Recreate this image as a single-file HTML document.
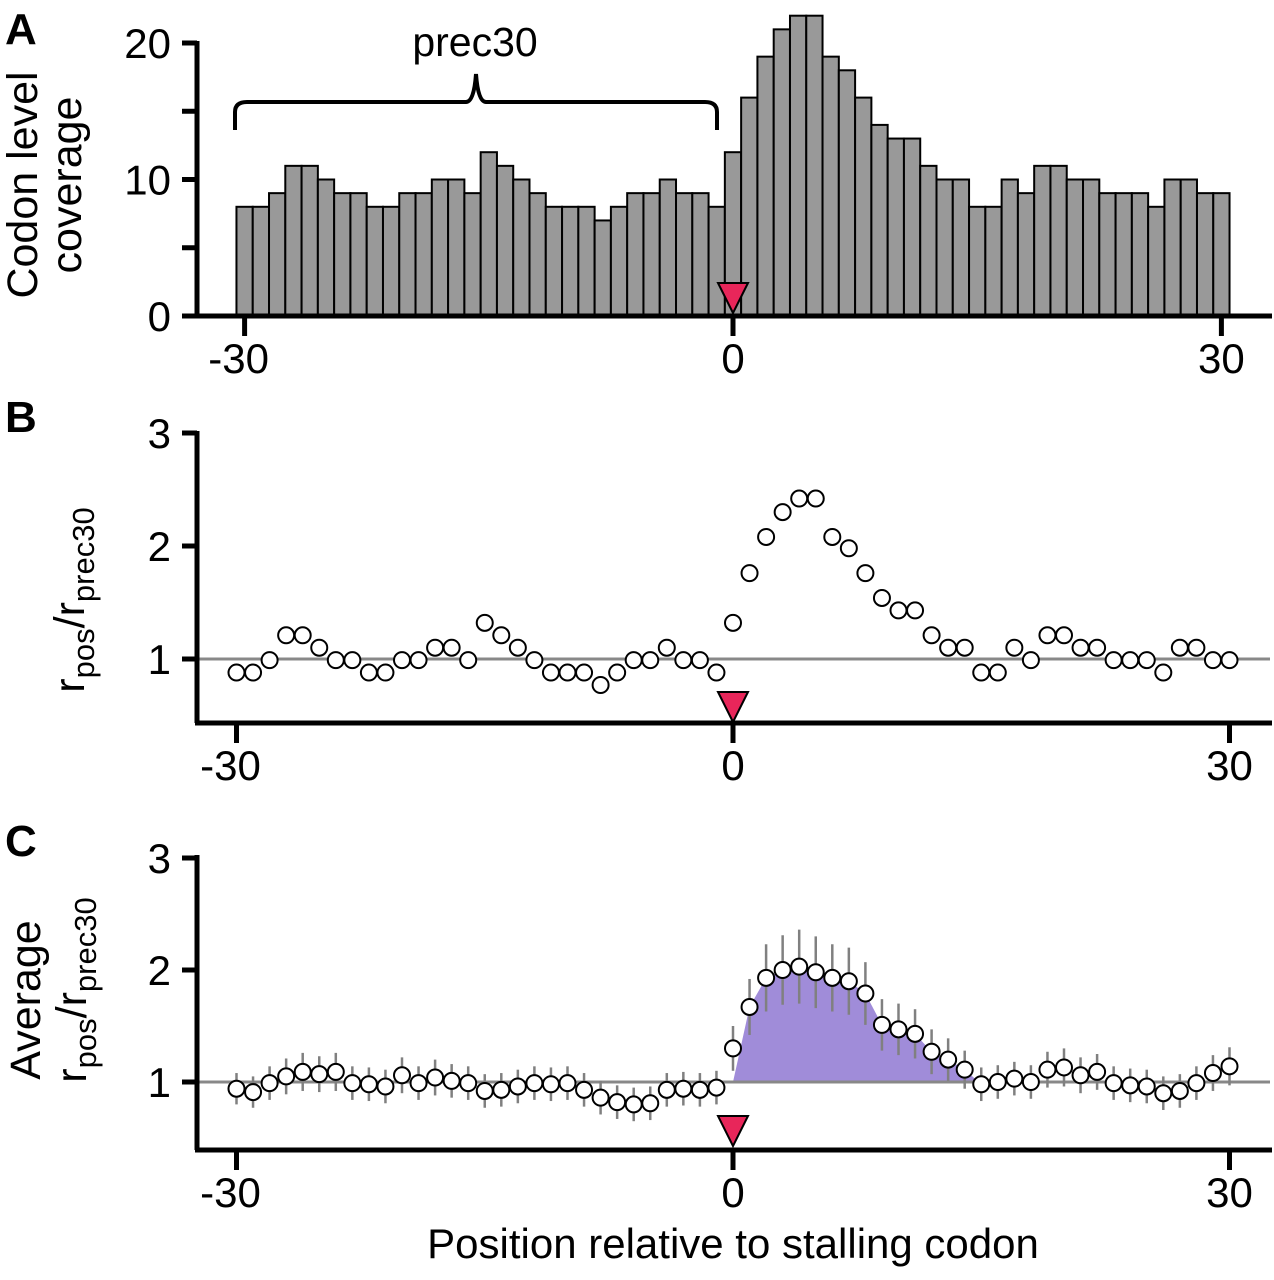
<!DOCTYPE html>
<html><head><meta charset="utf-8"><style>
html,body{margin:0;padding:0;background:#fff}
svg{display:block;font-family:"Liberation Sans",Arial,sans-serif}
</style></head><body>
<svg id="fig" width="1274" height="1280" viewBox="0 0 1274 1280" xmlns="http://www.w3.org/2000/svg">
<g id="gA"></g>
<g id="gB"></g>
<g id="gC"></g>
</svg>
<script>
const positions = [];
for (let i = -30; i <= 30; i++) positions.push(i);
const coverage = [8,8,9,11,11,10,9,9,8,8,9,9,10,10,9,12,11,10,9,8,8,8,7,8,9,9,10,9,9,8,
  12,16,19,21,22,22,19,18,16,14,13,13,11,10,10,8,8,10,9,11,11,10,10,9,9,9,8,10,10,9,9];
const ratioB = [0.88,0.88,0.99,1.21,1.21,1.1,0.99,0.99,0.88,0.88,0.99,0.99,1.1,1.1,0.99,1.32,1.21,1.1,0.99,0.88,0.88,0.88,0.77,0.88,0.99,0.99,1.1,0.99,0.99,0.88,
  1.32,1.76,2.08,2.3,2.42,2.42,2.08,1.98,1.76,1.54,1.43,1.43,1.21,1.1,1.1,0.88,0.88,1.1,0.99,1.21,1.21,1.1,1.1,0.99,0.99,0.99,0.88,1.1,1.1,0.99,0.99];
const avgC = [0.94,0.91,0.99,1.05,1.09,1.07,1.09,0.99,0.98,0.96,1.06,0.99,1.04,1.01,0.99,0.92,0.93,0.96,0.99,0.98,0.99,0.93,0.86,0.82,0.80,0.81,0.93,0.94,0.93,0.95,
  1.30,1.67,1.93,2.0,2.03,1.98,1.93,1.90,1.79,1.51,1.47,1.43,1.27,1.20,1.11,0.98,1.0,1.03,1.0,1.11,1.13,1.06,1.09,0.99,0.97,0.96,0.90,0.92,0.99,1.08,1.14];
const errC = [0.14,0.14,0.15,0.16,0.17,0.16,0.17,0.15,0.15,0.15,0.16,0.15,0.16,0.15,0.15,0.15,0.15,0.15,0.15,0.15,0.15,0.15,0.15,0.15,0.15,0.15,0.15,0.15,0.15,0.15,
  0.2,0.25,0.3,0.31,0.33,0.32,0.3,0.3,0.28,0.23,0.23,0.22,0.2,0.19,0.17,0.15,0.15,0.15,0.15,0.16,0.17,0.16,0.16,0.15,0.15,0.15,0.15,0.15,0.15,0.16,0.17];
const xTicks = [-30,0,30];
const yTicksA = [0,5,10,15,20], yLabelsA = ["0","","10","","20"];
const yTicksR = [1,2,3];

const NS = "http://www.w3.org/2000/svg";
function mk(parent, tag, attrs, text) {
  const e = document.createElementNS(NS, tag);
  for (const k in attrs) e.setAttribute(k, attrs[k]);
  if (text !== undefined) e.textContent = text;
  parent.appendChild(e);
  return e;
}
const xA = v => 733 + v * 16.28;
const xS = v => 733 + v * 16.55;
const yA = v => 316 - v * 13.65;
const yB = v => 659 - (v - 1) * 113;
const yC = v => 1082 - (v - 1) * 112;

function axes(g, xScale, yScale, ticks, labels, yTop, yBot) {
  let e = mk(g, "line", {x1:197, y1:yTop, x2:197, y2:yBot, stroke:"#000","stroke-width":5});
  
  
  e = mk(g, "line", {x1:195, y1:yBot, x2:1272, y2:yBot, stroke:"#000","stroke-width":5});
  
  
  ticks.forEach((t, i) => {
    mk(g, "line", {x1:182, y1:yScale(t), x2:197, y2:yScale(t), stroke:"#000","stroke-width":5});
    if (labels[i]) {
      const tl = mk(g, "text", {x:171, y:yScale(t) + 15, "font-size":42, "text-anchor":"end"}, labels[i]);
      
      
    }
  });
  xTicks.forEach(t => {
    mk(g, "line", {x1:xScale(t), y1:yBot, x2:xScale(t), y2:yBot + 20, stroke:"#000","stroke-width":5});
    const tl = mk(g, "text", {x:xScale(t) + (t < 0 ? -6 : 0), y:yBot + 57, "font-size":42, "text-anchor":"middle"}, String(t));
    
    
  });
}
function triangle(g, yTip) {
  const t = mk(g, "polygon", {points:`${733-15},${yTip-30} ${733+15},${yTip-30} 733,${yTip}`, fill:"#e8265a", stroke:"#000","stroke-width":2});
  
  
}
function letter(g, s, y) {
  const t = mk(g, "text", {x:5, y:y, "font-size":44, "font-weight":"bold"}, s);
  
  
}

// Panel A
const gA = document.getElementById("gA");
letter(gA, "A", 44);
positions.forEach((p, i) => {
  const w = 16.28;
  const b = mk(gA, "rect", {x:xA(p) - w/2, y:yA(coverage[i]), width:w, height:yA(0) - yA(coverage[i]), fill:"#999", stroke:"#000","stroke-width":2});
  
  
});
axes(gA, xA, yA, yTicksA, yLabelsA, 41, 316);
triangle(gA, 313);
let br = mk(gA, "path", {d:"M235,130 L235,112 Q235,102 247,102 L466,102 Q474,102 476,74 Q478,102 486,102 L705,102 Q717,102 717,112 L717,130", fill:"none", stroke:"#000","stroke-width":4});


let tt = mk(gA, "text", {x:475, y:56, "font-size":41, "text-anchor":"middle"}, "prec30");


let yl = mk(gA, "text", {transform:"translate(37,185) rotate(-90)", "font-size":43, "text-anchor":"middle"}, "Codon level");


yl = mk(gA, "text", {transform:"translate(81,185) rotate(-90)", "font-size":43, "text-anchor":"middle"}, "coverage");



// Panel B
const gB = document.getElementById("gB");
letter(gB, "B", 432);
let rl = mk(gB, "line", {x1:197, y1:yB(1), x2:1270, y2:yB(1), stroke:"#888","stroke-width":3});


axes(gB, xS, yB, yTicksR, ["1","2","3"], 431, 723);
triangle(gB, 722);
positions.forEach((p, i) => {
  const c = mk(gB, "circle", {cx:xS(p), cy:yB(ratioB[i]), r:8, fill:"#fff", stroke:"#000","stroke-width":2});
  
  
});
function rlabel(g, cx, cy) {
  const t = mk(g, "text", {transform:`translate(${cx},${cy}) rotate(-90)`, "font-size":43, "text-anchor":"middle"});
  
  
  mk(t, "tspan", {}, "r");
  mk(t, "tspan", {"font-size":31, dy:10}, "pos");
  mk(t, "tspan", {dy:-10}, "/r");
  mk(t, "tspan", {"font-size":31, dy:10}, "prec30");
}
rlabel(gB, 84, 600);

// Panel C
const gC = document.getElementById("gC");
letter(gC, "C", 856);
let pts = [[xS(0), yC(1)]];
for (let i = 31; i <= 44; i++) pts.push([xS(positions[i]), yC(avgC[i])]);
const a = avgC[44] - 1, b2 = avgC[45] - 1;
const cross = positions[44] + a / (a - b2);
pts.push([xS(cross), yC(1)]);
let area = mk(gC, "polygon", {points:pts.map(p => p.join(",")).join(" "), fill:"#a08cd9"});


rl = mk(gC, "line", {x1:197, y1:yC(1), x2:1270, y2:yC(1), stroke:"#888","stroke-width":3});


axes(gC, xS, yC, yTicksR, ["1","2","3"], 855, 1150);
triangle(gC, 1146);
positions.forEach((p, i) => {
  const e = mk(gC, "line", {x1:xS(p), y1:yC(avgC[i] + errC[i]), x2:xS(p), y2:yC(avgC[i] - errC[i]), stroke:"#808080","stroke-width":2.5});
  
  
});
positions.forEach((p, i) => {
  const c = mk(gC, "circle", {cx:xS(p), cy:yC(avgC[i]), r:8, fill:"#fff", stroke:"#000","stroke-width":2});
  
  
});
yl = mk(gC, "text", {transform:"translate(40,1000) rotate(-90)", "font-size":43, "text-anchor":"middle"}, "Average");


rlabel(gC, 86, 990);
let xl = mk(gC, "text", {x:733, y:1258, "font-size":42, "text-anchor":"middle"}, "Position relative to stalling codon");


</script>
</body></html>
